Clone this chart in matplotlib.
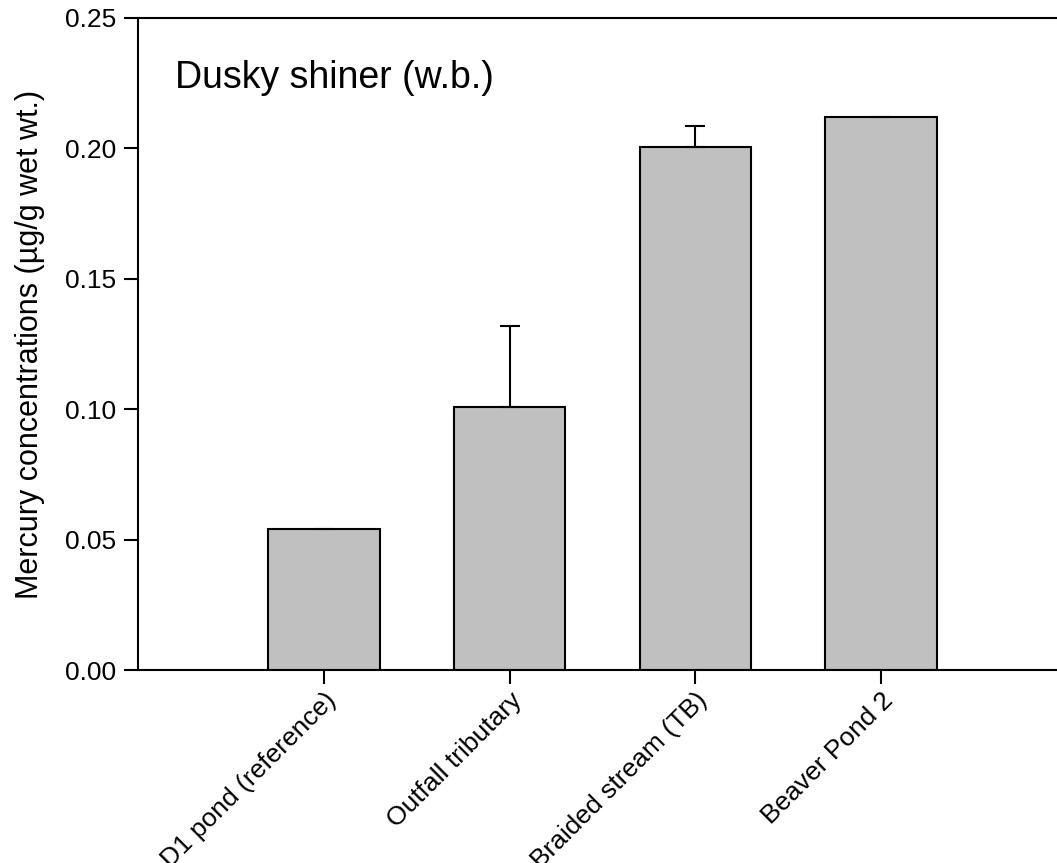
import matplotlib.pyplot as plt

sites = ["D1 pond (reference)", "Outfall tributary", "Braided stream (TB)", "Beaver Pond 2"]
mercury = [0.054, 0.101, 0.2005, 0.212]
mercury_err = [0.0, 0.031, 0.008, 0.0]

plt.rcParams['font.family'] = ['Liberation Sans', 'DejaVu Sans']

fig = plt.figure(figsize=(10.57, 8.63), dpi=100)
# axes runs past the right edge, like the original
ax = fig.add_axes([138 / 1057, (863 - 670) / 863, (1067 - 138) / 1057, (670 - 18) / 863])

x = list(range(len(sites)))
ax.bar(x, mercury, width=0.6, color='#c0c0c0', edgecolor='black', linewidth=1.5)
err = [e if e > 0 else float('nan') for e in mercury_err]
ax.errorbar(x, mercury, yerr=[[0] * len(err), err], fmt='none', ecolor='black',
            elinewidth=1.5, capsize=7.5, capthick=1.5)

ax.set_xlim(-1, 4)
ax.set_ylim(0, 0.25)
ax.set_yticks([0, 0.05, 0.10, 0.15, 0.20, 0.25])
ax.set_yticklabels(['0.00', '0.05', '0.10', '0.15', '0.20', '0.25'])
ax.set_xticks(x)
ax.set_xticklabels(sites, rotation=45, ha='right', rotation_mode='anchor')
ax.tick_params(direction='out', length=10, width=1.5, labelsize=19, pad=6)
ax.tick_params(axis='x', pad=3)
for s in ax.spines.values():
    s.set_linewidth(1.5)
ax.spines['right'].set_visible(False)

ax.set_ylabel('Mercury concentrations (\u00b5g/g wet wt.)', fontsize=22, labelpad=14)
ax.text(-0.8, 0.227, 'Dusky shiner (w.b.)', fontsize=27, va='center')

fig.savefig('out.png', dpi=100)
